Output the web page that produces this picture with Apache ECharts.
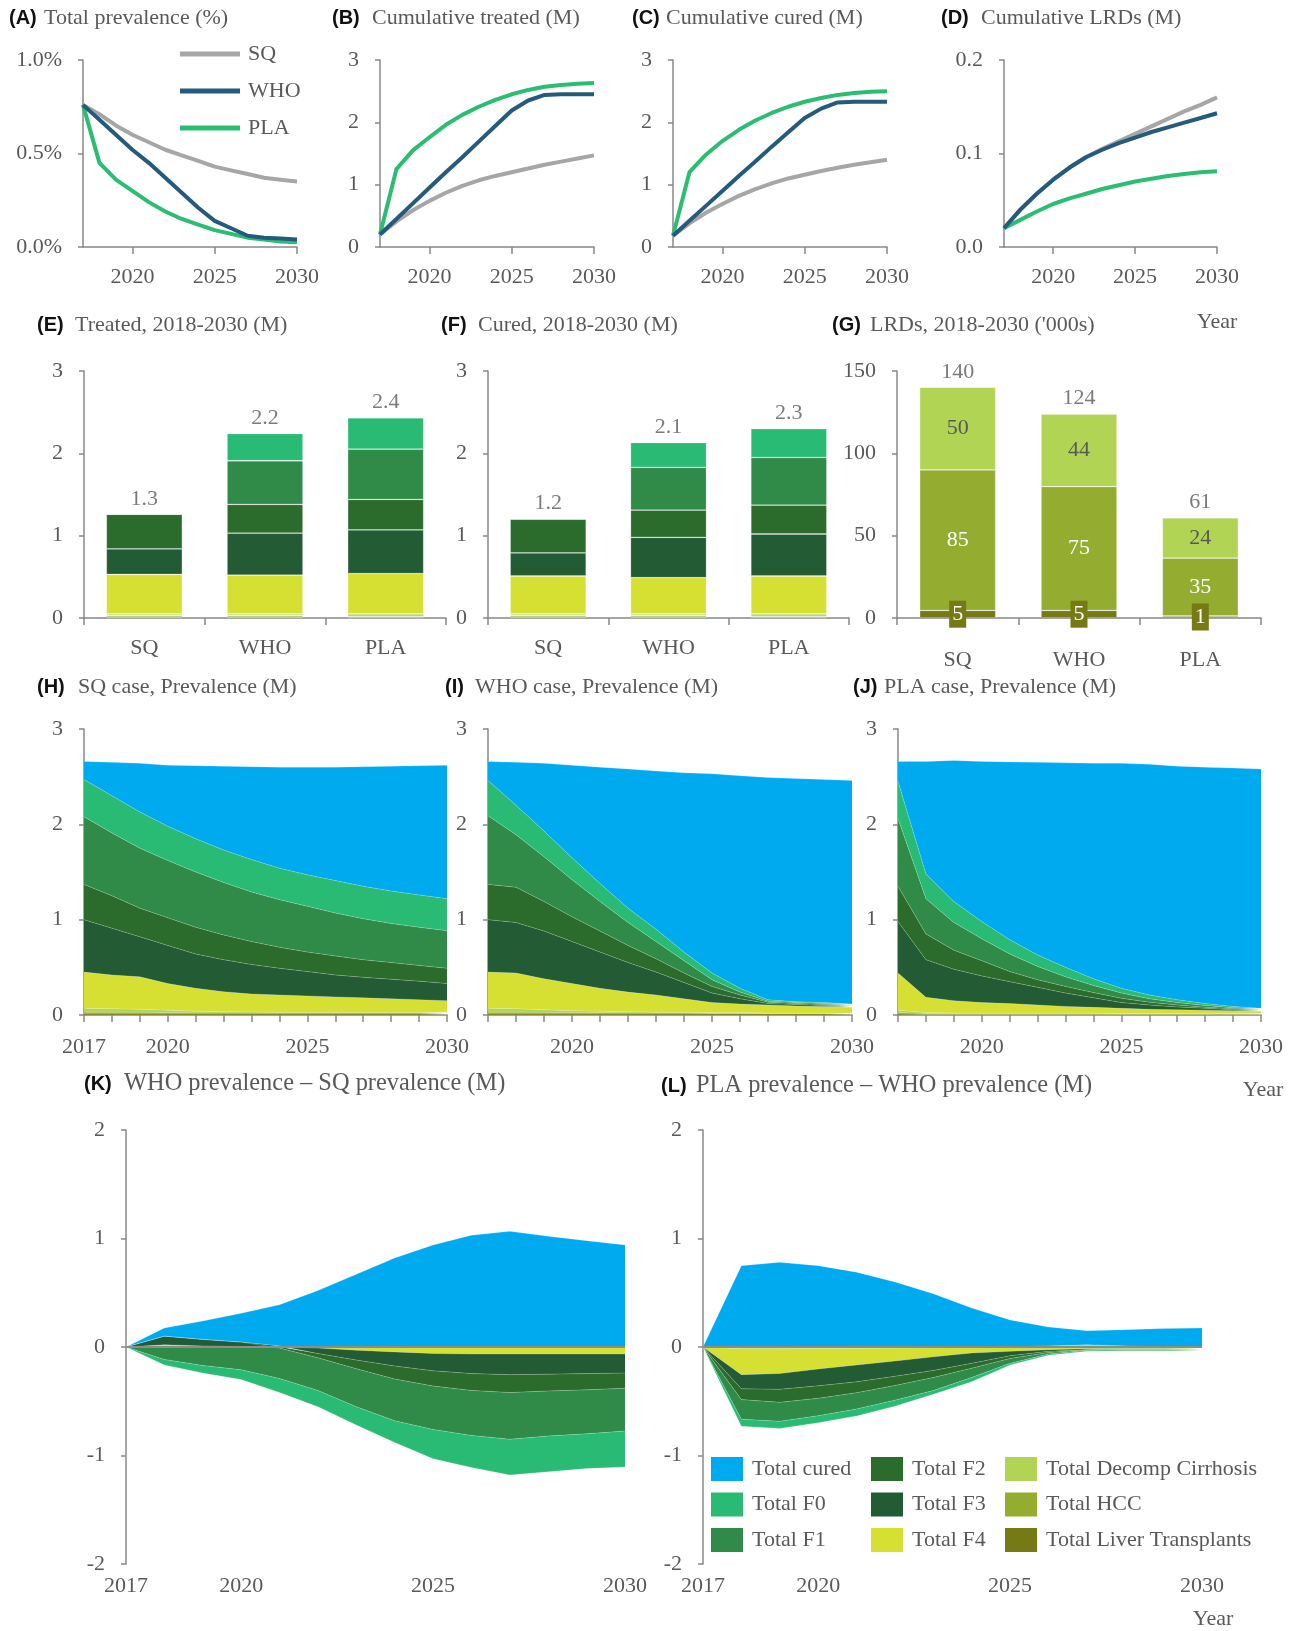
<!DOCTYPE html>
<html><head><meta charset="utf-8">
<script src="https://cdn.jsdelivr.net/npm/echarts@6/dist/echarts.min.js"></script>
<style>html,body{margin:0;padding:0;background:#fff}#c{width:1296px;height:1631px}</style>
</head><body><div id="c"></div>
<script>
// ---------------- DATA ----------------
const years = [2017,2018,2019,2020,2021,2022,2023,2024,2025,2026,2027,2028,2029,2030];
const lineLabelYears = [2020,2025,2030];
const areaLabelYearsH = [2017,2020,2025,2030];
const areaLabelYearsIJ = [2020,2025,2030];
const diffLabelYears = [2017,2020,2025,2030];
const scenarios = ['SQ','WHO','PLA'];

// (A) Total prevalence (%)
const prevSQ  = [0.76,0.71,0.65,0.60,0.56,0.52,0.49,0.46,0.43,0.41,0.39,0.37,0.36,0.35];
const prevWHO = [0.76,0.68,0.60,0.52,0.45,0.37,0.29,0.21,0.14,0.10,0.06,0.05,0.045,0.04];
const prevPLA = [0.76,0.45,0.36,0.30,0.24,0.19,0.15,0.12,0.09,0.07,0.05,0.04,0.03,0.025];
// (B) Cumulative treated (M)
const treatSQ  = [0.2,0.41,0.59,0.74,0.87,0.98,1.07,1.14,1.2,1.26,1.32,1.37,1.42,1.47];
const treatWHO = [0.2,0.45,0.7,0.95,1.2,1.44,1.69,1.94,2.19,2.35,2.44,2.45,2.45,2.45];
const treatPLA = [0.2,1.25,1.55,1.76,1.96,2.12,2.25,2.36,2.45,2.52,2.57,2.60,2.62,2.63];
// (C) Cumulative cured (M)
const cureSQ  = [0.18,0.38,0.55,0.69,0.82,0.93,1.02,1.1,1.16,1.22,1.27,1.32,1.36,1.4];
const cureWHO = [0.18,0.42,0.66,0.9,1.14,1.37,1.61,1.84,2.07,2.22,2.32,2.33,2.33,2.33];
const curePLA = [0.18,1.2,1.48,1.7,1.88,2.03,2.15,2.25,2.33,2.39,2.44,2.47,2.49,2.5];
// (D) Cumulative LRDs (M)
const lrdSQ  = [0.02,0.04,0.057,0.072,0.085,0.096,0.105,0.113,0.121,0.129,0.137,0.145,0.152,0.16];
const lrdWHO = [0.02,0.04,0.057,0.072,0.085,0.096,0.104,0.111,0.117,0.123,0.128,0.133,0.138,0.143];
const lrdPLA = [0.02,0.029,0.038,0.046,0.052,0.057,0.062,0.066,0.07,0.073,0.076,0.078,0.08,0.081];

// (E) Treated 2018-2030 (M) by stage, per scenario [SQ, WHO, PLA]
const trLT = [0.01,0.01,0.005], trHCC = [0.02,0.02,0.015], trDecomp = [0.02,0.02,0.03];
const trF4 = [0.48,0.47,0.49], trF3 = [0.31,0.51,0.53], trF2 = [0.42,0.35,0.37];
const trF1 = [0,0.53,0.61], trF0 = [0,0.33,0.38];
// (F) Cured 2018-2030 (M)
const cuLT = [0.01,0.01,0.005], cuHCC = [0.02,0.02,0.015], cuDecomp = [0.02,0.02,0.03];
const cuF4 = [0.46,0.44,0.46], cuF3 = [0.28,0.49,0.51], cuF2 = [0.41,0.33,0.35];
const cuF1 = [0,0.52,0.58], cuF0 = [0,0.30,0.35];
// (G) LRDs 2018-2030 ('000s)
const lrdLT = [4.6,4.6,1.2], lrdHCC = [85.3,75.2,35.2], lrdDecomp = [50.2,44.0,24.4];

// (H) SQ case prevalence (M)
const sqLT     = [0.01,0.01,0.01,0.01,0.01,0.01,0.01,0.01,0.01,0.01,0.01,0.01,0.01,0.01];
const sqHCC    = [0.02,0.02,0.02,0.015,0.012,0.01,0.01,0.01,0.01,0.01,0.01,0.01,0.01,0.01];
const sqDecomp = [0.04,0.035,0.03,0.025,0.018,0.015,0.012,0.01,0.01,0.01,0.01,0.01,0.01,0.01];
const sqF4     = [0.38,0.355,0.34,0.28,0.24,0.21,0.188,0.18,0.17,0.16,0.15,0.14,0.13,0.12];
const sqF3     = [0.55,0.49,0.42,0.40,0.36,0.335,0.31,0.28,0.255,0.23,0.215,0.205,0.195,0.18];
const sqF2     = [0.37,0.34,0.30,0.29,0.28,0.26,0.24,0.22,0.205,0.20,0.185,0.175,0.165,0.16];
const sqF1     = [0.71,0.66,0.63,0.60,0.58,0.55,0.52,0.50,0.48,0.45,0.43,0.41,0.40,0.395];
const sqF0     = [0.39,0.39,0.38,0.36,0.35,0.34,0.34,0.33,0.33,0.34,0.34,0.34,0.34,0.335];
const sqCured  = [0.19,0.35,0.51,0.64,0.765,0.88,0.975,1.06,1.13,1.19,1.255,1.31,1.355,1.40];
// (I) WHO case prevalence (M)
const whoLT     = [0.01,0.01,0.01,0.01,0.01,0.01,0.01,0.01,0.01,0.01,0.01,0.01,0.01,0.01];
const whoHCC    = [0.02,0.02,0.018,0.015,0.013,0.012,0.01,0.01,0.008,0.008,0.005,0.005,0.005,0.005];
const whoDecomp = [0.04,0.035,0.027,0.02,0.017,0.013,0.01,0.01,0.007,0.007,0.005,0.005,0.005,0.005];
const whoF4     = [0.38,0.375,0.325,0.285,0.24,0.205,0.18,0.14,0.105,0.09,0.085,0.075,0.07,0.06];
const whoF3     = [0.55,0.53,0.50,0.44,0.38,0.31,0.24,0.17,0.10,0.055,0.015,0.015,0.01,0.01];
const whoF2     = [0.37,0.37,0.31,0.26,0.22,0.18,0.14,0.10,0.07,0.04,0.015,0.01,0.01,0.01];
const whoF1     = [0.72,0.55,0.47,0.39,0.31,0.24,0.18,0.13,0.07,0.03,0.01,0.01,0.01,0.01];
const whoF0     = [0.37,0.31,0.27,0.23,0.19,0.15,0.13,0.09,0.07,0.04,0.015,0.01,0.01,0.005];
const whoCured  = [0.20,0.45,0.71,0.97,1.22,1.46,1.66,1.88,2.09,2.23,2.33,2.34,2.34,2.345];
// (J) PLA case prevalence (M)
const plaLT     = [0.01,0.005,0.005,0.005,0.005,0.005,0.005,0.005,0.005,0.005,0.005,0.005,0.005,0.005];
const plaHCC    = [0.015,0.01,0.008,0.008,0.008,0.008,0.008,0.008,0.005,0.005,0.005,0.005,0.005,0.005];
const plaDecomp = [0.025,0.01,0.007,0.007,0.007,0.007,0.007,0.007,0.005,0.005,0.005,0.005,0.005,0.005];
const plaF4     = [0.39,0.16,0.13,0.11,0.10,0.085,0.07,0.06,0.055,0.045,0.04,0.035,0.03,0.025];
const plaF3     = [0.54,0.395,0.33,0.28,0.23,0.185,0.14,0.10,0.06,0.045,0.03,0.02,0.01,0.01];
const plaF2     = [0.37,0.27,0.20,0.16,0.105,0.08,0.07,0.055,0.045,0.03,0.02,0.01,0.01,0.005];
const plaF1     = [0.71,0.37,0.29,0.23,0.185,0.14,0.10,0.075,0.055,0.035,0.025,0.02,0.01,0.005];
const plaF0     = [0.39,0.26,0.22,0.18,0.15,0.12,0.10,0.07,0.05,0.04,0.03,0.02,0.015,0.01];
const plaCured  = [0.21,1.18,1.48,1.68,1.865,2.02,2.145,2.26,2.36,2.42,2.45,2.48,2.50,2.51];
// (K) WHO prevalence - SQ prevalence (M)
const kLT     = [0,0,0,0,0,0,0,0,0,0,0,0,0,0];
const kHCC    = [0,0,0,0,0,0,0,0,0,0,0,0,0,0];
const kDecomp = [0,0,0,0,0,0,0,0,0,0,0,0,0,0];
const kF4     = [0,0.02,0.01,0.005,0,-0.01,-0.03,-0.045,-0.06,-0.065,-0.065,-0.065,-0.065,-0.065];
const kF3     = [0,0.08,0.06,0.04,0.01,-0.05,-0.09,-0.13,-0.16,-0.18,-0.19,-0.185,-0.18,-0.175];
const kF2     = [0,0,0,0,-0.01,-0.04,-0.08,-0.12,-0.14,-0.155,-0.165,-0.155,-0.15,-0.14];
const kF1     = [0,-0.115,-0.17,-0.21,-0.28,-0.30,-0.35,-0.385,-0.40,-0.415,-0.43,-0.415,-0.405,-0.395];
const kF0     = [0,-0.05,-0.07,-0.09,-0.13,-0.15,-0.17,-0.20,-0.27,-0.295,-0.33,-0.33,-0.32,-0.33];
const kCured  = [0,0.075,0.17,0.265,0.38,0.52,0.67,0.82,0.94,1.03,1.066,1.02,0.98,0.94];
// (L) PLA prevalence - WHO prevalence (M)
const lLT     = [0,0,0,0,0,0,0,0,0,0,0,0,0,0];
const lHCC    = [0,-0.005,-0.005,-0.005,-0.005,-0.005,-0.003,0,0,0.005,0.01,0.005,0,0];
const lDecomp = [0,-0.01,-0.01,-0.008,-0.006,-0.005,-0.003,0,0,0.005,0.01,0.005,0,0];
const lF4     = [0,-0.24,-0.23,-0.19,-0.155,-0.12,-0.085,-0.055,-0.04,-0.025,-0.015,-0.015,-0.015,-0.015];
const lF3     = [0,-0.13,-0.145,-0.155,-0.155,-0.14,-0.125,-0.095,-0.04,-0.015,-0.01,-0.005,-0.005,-0.005];
const lF2     = [0,-0.10,-0.12,-0.115,-0.10,-0.085,-0.065,-0.045,-0.025,-0.01,0,0,0,0];
const lF1     = [0,-0.18,-0.175,-0.16,-0.15,-0.135,-0.12,-0.085,-0.045,-0.015,-0.005,-0.005,-0.005,-0.005];
const lF0     = [0,-0.065,-0.065,-0.065,-0.065,-0.055,-0.035,-0.04,-0.015,-0.01,-0.01,-0.01,-0.01,-0.01];
const lCured  = [0,0.75,0.78,0.75,0.69,0.60,0.49,0.36,0.25,0.175,0.13,0.15,0.17,0.175];

// ---------------- STYLE ----------------
const FONT = '"Liberation Serif", "Times New Roman", serif';
const TXT = '#595959';
const AX = '#888888';
const FS = 22;
const scenarioColors = { SQ:'#A6A6A6', WHO:'#245B7C', PLA:'#2BBE73' };
const stageOrder = ['Total Liver Transplants','Total HCC','Total Decomp Cirrhosis','Total F4','Total F3','Total F2','Total F1','Total F0','Total cured'];
const stageColors = {
  'Total cured':'#00AAEF','Total F0':'#29BB74','Total F1':'#2F8B47','Total F2':'#2B6B2C',
  'Total F3':'#225B34','Total F4':'#D5E033','Total Decomp Cirrhosis':'#B1D454',
  'Total HCC':'#94AC30','Total Liver Transplants':'#767A15'
};

const grids = [
  {left:83,  top:60,  width:214, height:187},
  {left:380, top:60,  width:214, height:187},
  {left:673, top:60,  width:214, height:187},
  {left:1004,top:60,  width:213, height:187},
  {left:84,  top:371, width:362, height:247},
  {left:488, top:371, width:361, height:247},
  {left:897, top:371, width:364, height:247},
  {left:84,  top:729, width:363, height:286},
  {left:488, top:729, width:364, height:286},
  {left:898, top:729, width:363, height:286},
  {left:126, top:1130,width:499, height:434},
  {left:703, top:1130,width:499, height:434}
].map(g => Object.assign({containLabel:false, outerBoundsMode:'none'}, g));

const lbl = (extra) => Object.assign({color:TXT, fontFamily:FONT, fontSize:FS}, extra||{});
const axLine = {show:true, lineStyle:{color:AX, width:1.5}};
const tickStyle = {color:AX, width:1.5};

function yAx(gi, min, max, interval, fmt) {
  return {gridIndex:gi, type:'value', min, max, interval,
    axisLine:axLine, axisTick:{show:true, length:5, lineStyle:tickStyle},
    splitLine:{show:false}, axisLabel:lbl({margin:21, formatter:fmt})};
}
// value x-axis for the line panels
function xYearVal(gi, labelYears, margin) {
  return {gridIndex:gi, type:'value', min:2017, max:2030,
    axisLine:axLine,
    axisTick:{show:true, length:7, customValues:labelYears, lineStyle:tickStyle},
    splitLine:{show:false},
    axisLabel: lbl({margin, customValues:labelYears, formatter:v => String(v)})};
}
// category x-axis (years) for the stacked-area panels
function xYearCat(gi, labelYears, margin, showLineTicks) {
  return {gridIndex:gi, type:'category', data:years.map(String), boundaryGap:false,
    axisLine: showLineTicks ? axLine : {show:false},
    axisTick: showLineTicks ? {show:true, length:7, interval:0, lineStyle:tickStyle} : {show:false},
    splitLine:{show:false},
    axisLabel: lbl({margin, interval:(i, v) => labelYears.indexOf(Number(v)) >= 0})};
}
function xCat(gi, margin) {
  return {gridIndex:gi, type:'category', data:scenarios, axisLine:axLine,
    axisTick:{show:true, length:7, alignWithLabel:false, lineStyle:tickStyle},
    axisLabel:lbl({margin})};
}

const xAxis = [
  xYearVal(0, lineLabelYears, 19),
  xYearVal(1, lineLabelYears, 19),
  xYearVal(2, lineLabelYears, 19),
  xYearVal(3, lineLabelYears, 19),
  xCat(4, 19), xCat(5, 19), xCat(6, 31),
  xYearCat(7, areaLabelYearsH, 21, true),
  xYearCat(8, areaLabelYearsIJ, 21, true),
  xYearCat(9, areaLabelYearsIJ, 21, true),
  xYearCat(10, diffLabelYears, 11, false),
  xYearCat(11, diffLabelYears, 11, false)
];
const yAxis = [
  yAx(0, 0, 1, 0.5, v => v.toFixed(1) + '%'),
  yAx(1, 0, 3, 1), yAx(2, 0, 3, 1),
  yAx(3, 0, 0.2, 0.1, v => v.toFixed(1)),
  yAx(4, 0, 3, 1), yAx(5, 0, 3, 1), yAx(6, 0, 150, 50),
  yAx(7, 0, 3, 1), yAx(8, 0, 3, 1), yAx(9, 0, 3, 1),
  yAx(10, -2, 2, 1), yAx(11, -2, 2, 1)
];

const series = [];
// line panels
[[prevSQ,prevWHO,prevPLA],[treatSQ,treatWHO,treatPLA],[cureSQ,cureWHO,curePLA],[lrdSQ,lrdWHO,lrdPLA]]
.forEach((set, gi) => {
  set.forEach((arr, k) => {
    const nm = scenarios[k];
    series.push({type:'line', name:nm, xAxisIndex:gi, yAxisIndex:gi, symbol:'none', showSymbol:false,
      data: years.map((y,i) => [y, arr[i]]),
      lineStyle:{width:4, color:scenarioColors[nm]}, itemStyle:{color:scenarioColors[nm]},
      z: k === 0 ? 2 : (k === 1 ? 4 : 3)});
  });
});

// bar panels
function barPanel(gi, layers, totalFmt, labelCfg) {
  layers.forEach(([name, arr]) => {
    const s = {type:'bar', name, xAxisIndex:gi, yAxisIndex:gi, stack:'b'+gi, barWidth:76,
      data: arr.slice(), itemStyle:{color:stageColors[name], borderColor:'rgba(255,255,255,0.25)', borderWidth:0.8}};
    if (labelCfg && labelCfg[name]) s.label = labelCfg[name];
    series.push(s);
  });
  const totals = scenarios.map((_, j) => layers.reduce((a, l) => a + l[1][j], 0));
  series.push({type:'scatter', name:'total'+gi, xAxisIndex:gi, yAxisIndex:gi, data:totals, symbolSize:1,
    itemStyle:{color:'rgba(0,0,0,0)'}, z:10,
    label:{show:true, position:'top', distance:4, color:TXT, fontFamily:FONT, fontSize:FS, formatter:p => totalFmt(p.value)}});
}
barPanel(4, [['Total Liver Transplants',trLT],['Total HCC',trHCC],['Total Decomp Cirrhosis',trDecomp],
  ['Total F4',trF4],['Total F3',trF3],['Total F2',trF2],['Total F1',trF1],['Total F0',trF0]], v => v.toFixed(1));
barPanel(5, [['Total Liver Transplants',cuLT],['Total HCC',cuHCC],['Total Decomp Cirrhosis',cuDecomp],
  ['Total F4',cuF4],['Total F3',cuF3],['Total F2',cuF2],['Total F1',cuF1],['Total F0',cuF0]], v => v.toFixed(1));
barPanel(6, [['Total Liver Transplants',lrdLT],['Total HCC',lrdHCC],['Total Decomp Cirrhosis',lrdDecomp]],
  v => String(Math.round(v)), {
    'Total Liver Transplants': {show:true, position:'inside', color:'#fff', fontFamily:FONT, fontSize:FS,
       backgroundColor:'#767A15', padding:[3,3,2,3], formatter:p => String(Math.round(p.value))},
    'Total HCC': {show:true, position:'inside', color:'#fff', fontFamily:FONT, fontSize:FS, formatter:p => String(Math.round(p.value))},
    'Total Decomp Cirrhosis': {show:true, position:'inside', color:TXT, fontFamily:FONT, fontSize:FS, formatter:p => String(Math.round(p.value))}
  });

// area panels
function areaPanel(gi, layers, zeroLine) {
  stageOrder.forEach((name, k) => {
    const s = {type:'line', name, xAxisIndex:gi, yAxisIndex:gi, stack:'a'+gi, stackStrategy:'samesign',
      symbol:'none', showSymbol:false, data: layers[k].slice(),
      lineStyle:{width:0.6, color:'rgba(255,255,255,0.35)'},
      itemStyle:{color:stageColors[name]}, areaStyle:{color:stageColors[name], opacity:1}, z:2};
    if (zeroLine && k === stageOrder.length - 1) {
      s.markLine = {silent:true, symbol:'none', data:[{yAxis:0}], label:{show:false},
        lineStyle:{color:'#8c8c8c', width:2, type:'solid'}, z:5};
    }
    series.push(s);
  });
}
areaPanel(7, [sqLT,sqHCC,sqDecomp,sqF4,sqF3,sqF2,sqF1,sqF0,sqCured]);
areaPanel(8, [whoLT,whoHCC,whoDecomp,whoF4,whoF3,whoF2,whoF1,whoF0,whoCured]);
areaPanel(9, [plaLT,plaHCC,plaDecomp,plaF4,plaF3,plaF2,plaF1,plaF0,plaCured]);
areaPanel(10, [kLT,kHCC,kDecomp,kF4,kF3,kF2,kF1,kF0,kCured], true);
areaPanel(11, [lLT,lHCC,lDecomp,lF4,lF3,lF2,lF1,lF0,lCured], true);

// legends
const legText = {color:TXT, fontFamily:FONT, fontSize:FS, padding:[0,0,0,4]};
const bigLeg = (data, left) => ({data, orient:'vertical', left, top:1457, itemWidth:32, itemHeight:24,
  itemGap:11.5, icon:'rect', padding:0, selectedMode:false, textStyle:legText, itemStyle:{borderWidth:0}});
const legend = [
  {data:scenarios, orient:'vertical', left:180, top:43, itemWidth:60, itemHeight:5, itemGap:15, icon:'rect',
   padding:0, selectedMode:false, textStyle:{color:TXT, fontFamily:FONT, fontSize:FS, padding:[0,0,0,3]}, itemStyle:{borderWidth:0}},
  bigLeg(['Total cured','Total F0','Total F1'], 711),
  bigLeg(['Total F2','Total F3','Total F4'], 871),
  bigLeg(['Total Decomp Cirrhosis','Total HCC','Total Liver Transplants'], 1005)
];

// titles: [tag, tagX, textX, centerY, text, fontSize]
const titles = [
  ['(A)',9,44,18,'Total prevalence (%)',22],
  ['(B)',332,372,18,'Cumulative treated (M)',22],
  ['(C)',632,666,18,'Cumulative cured (M)',22],
  ['(D)',941,981,18,'Cumulative LRDs (M)',22],
  ['(E)',37,75,325,'Treated, 2018-2030 (M)',22],
  ['(F)',441,478,325,'Cured, 2018-2030 (M)',22],
  ['(G)',832,870,325,"LRDs, 2018-2030 ('000s)",22],
  ['(H)',37,78,687,'SQ case, Prevalence (M)',22],
  ['(I)',445,475,687,'WHO case, Prevalence (M)',22],
  ['(J)',853,884,687,'PLA case, Prevalence (M)',22],
  ['(K)',84,124,1084,'WHO prevalence \u2013 SQ prevalence (M)',24.4],
  ['(L)',661,696,1086,'PLA prevalence \u2013 WHO prevalence (M)',24.4]
];
const graphic = [];
titles.forEach(([tag, x1, x2, y, txt, fs]) => {
  graphic.push({type:'text', x:x1, y, silent:true, style:{text:tag, fill:'#111', font:'bold 20px "Liberation Sans", Arial, sans-serif', verticalAlign:'middle', textVerticalAlign:'middle'}});
  graphic.push({type:'text', x:x2, y, silent:true, style:{text:txt, fill:TXT, font:fs + 'px ' + FONT, verticalAlign:'middle', textVerticalAlign:'middle'}});
});
[[1217,322],[1263,1090],[1213,1619]].forEach(([x,y]) => {
  graphic.push({type:'text', x, y, silent:true, style:{text:'Year', fill:TXT, font:FS + 'px ' + FONT, align:'center', textAlign:'center', verticalAlign:'middle', textVerticalAlign:'middle'}});
});

const chart = echarts.init(document.getElementById('c'), null, {renderer:'canvas', width:1296, height:1631});
chart.setOption({
  backgroundColor:'#ffffff', animation:false,
  grid:grids, xAxis, yAxis, series, legend, graphic,
  tooltip:{show:false}
});
</script></body></html>
